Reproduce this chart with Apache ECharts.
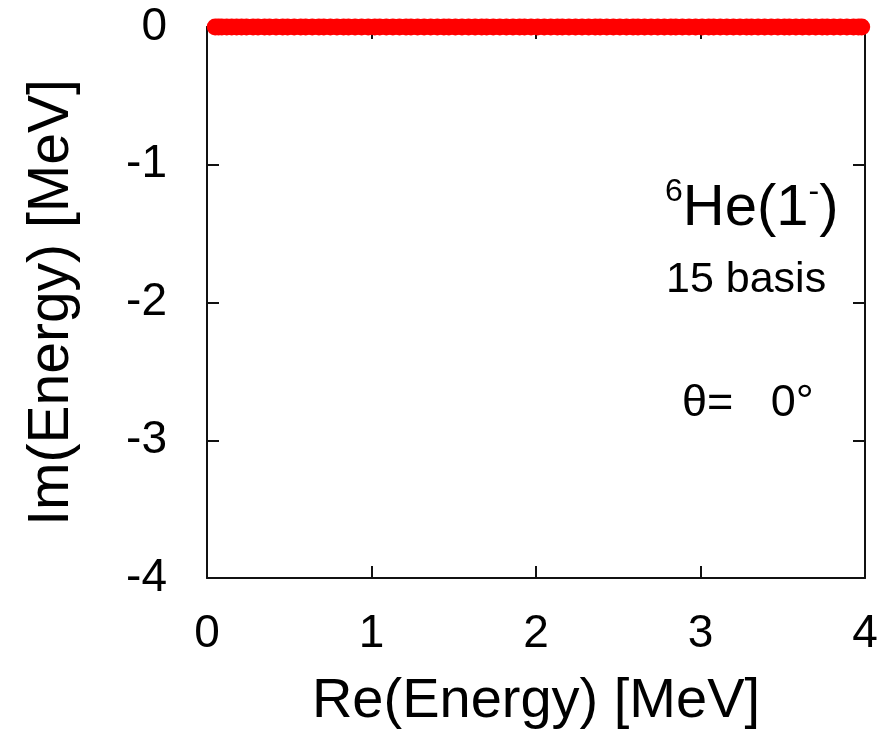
<!DOCTYPE html>
<html>
<head>
<meta charset="utf-8">
<script src="https://cdn.jsdelivr.net/npm/echarts@6/dist/echarts.min.js"></script>
<style>
  html, body { margin: 0; padding: 0; background: #fff; }
  #chart { width: 885px; height: 735px; }
</style>
</head>
<body>
<div id="chart"></div>
<script>
// 複素スケーリング固有値 (theta = 0 なので全部実軸上)
var reEnergy = [
  0.05, 0.07, 0.09, 0.12, 0.15, 0.18, 0.21, 0.24, 0.28,
  0.31, 0.35, 0.38, 0.42, 0.46, 0.49, 0.53, 0.57, 0.60, 0.64,
  0.68, 0.71, 0.75, 0.79, 0.83, 0.86, 0.90, 0.94, 0.98, 1.02,
  1.05, 1.09, 1.13, 1.17, 1.21, 1.24, 1.28, 1.32, 1.36, 1.40,
  1.44, 1.47, 1.51, 1.55, 1.59, 1.63, 1.67, 1.70, 1.74, 1.78,
  1.82, 1.86, 1.90, 1.93, 1.97, 2.01, 2.05, 2.09, 2.13, 2.16,
  2.20, 2.24, 2.28, 2.32, 2.36, 2.39, 2.43, 2.47, 2.51, 2.55,
  2.59, 2.62, 2.66, 2.70, 2.74, 2.78, 2.82, 2.85, 2.89, 2.93,
  2.97, 3.01, 3.05, 3.08, 3.12, 3.16, 3.20, 3.24, 3.28, 3.31,
  3.35, 3.39, 3.43, 3.47, 3.51, 3.54, 3.58, 3.62, 3.66, 3.70,
  3.74, 3.77, 3.81, 3.85, 3.89, 3.93, 3.96, 3.98
];
var imEnergy = reEnergy.map(function () { return 0; });

var xTicks = [0, 1, 2, 3, 4];
var yTicks = [-4, -3, -2, -1, 0];

var fontName = '"Liberation Sans", Arial, sans-serif';

var chart = echarts.init(document.getElementById('chart'));

var axisLineStyle = { color: '#111', width: 2 };
var tickStyle = { inside: true, length: 12, lineStyle: { color: '#111', width: 2 } };

var option = {
  animation: false,
  backgroundColor: '#fff',
  grid: { left: 207, right: 20, top: 27, bottom: 155, containLabel: false },
  xAxis: [
    {
      type: 'value', min: xTicks[0], max: xTicks[xTicks.length - 1], interval: 1,
      name: 'Re(Energy) [MeV]', nameLocation: 'middle', nameGap: 96,
      nameTextStyle: { fontFamily: fontName, fontSize: 56, color: '#000' },
      axisLine: { onZero: false, lineStyle: axisLineStyle },
      axisTick: tickStyle,
      axisLabel: { margin: 33, fontFamily: fontName, fontSize: 46, color: '#000' },
      splitLine: { show: false }
    },
    {
      type: 'value', position: 'top', min: 0, max: 4, interval: 1,
      axisLine: { onZero: false, lineStyle: axisLineStyle },
      axisTick: tickStyle,
      axisLabel: { show: false },
      splitLine: { show: false }
    }
  ],
  yAxis: [
    {
      type: 'value', min: yTicks[0], max: yTicks[yTicks.length - 1], interval: 1,
      name: 'Im(Energy) [MeV]', nameLocation: 'middle', nameGap: 126,
      nameTextStyle: { fontFamily: fontName, fontSize: 57, color: '#000' },
      axisLine: { onZero: false, lineStyle: axisLineStyle },
      axisTick: tickStyle,
      axisLabel: { margin: 40, fontFamily: fontName, fontSize: 46, color: '#000' },
      splitLine: { show: false }
    },
    {
      type: 'value', position: 'right', min: -4, max: 0, interval: 1,
      axisLine: { onZero: false, lineStyle: axisLineStyle },
      axisTick: tickStyle,
      axisLabel: { show: false },
      splitLine: { show: false }
    }
  ],
  series: [
    {
      name: 'eigen',
      type: 'scatter',
      symbol: 'circle',
      symbolSize: 17,
      itemStyle: { color: '#ff0000', opacity: 1 },
      clip: false,
      z: 10,
      data: reEnergy.map(function (re, i) { return [re, imEnergy[i]]; })
    }
  ],
  graphic: [
    {
      type: 'text', left: 665, top: 176,
      style: {
        text: '{sup|6}{main|He(1}{sup|-}{main|)}',
        rich: {
          main: { fontFamily: fontName, fontSize: 58, color: '#000', lineHeight: 62, verticalAlign: 'bottom' },
          sup: { fontFamily: fontName, fontSize: 32, color: '#000', lineHeight: 62, verticalAlign: 'top' }
        }
      }
    },
    {
      type: 'text', left: 666, top: 259,
      style: { text: '15 basis', fontFamily: fontName, fontSize: 43, fill: '#000' }
    },
    {
      type: 'text', left: 682, top: 381,
      style: { text: 'θ=   0°', fontFamily: fontName, fontSize: 45, fill: '#000' }
    }
  ]
};

chart.setOption(option);
</script>
</body>
</html>
